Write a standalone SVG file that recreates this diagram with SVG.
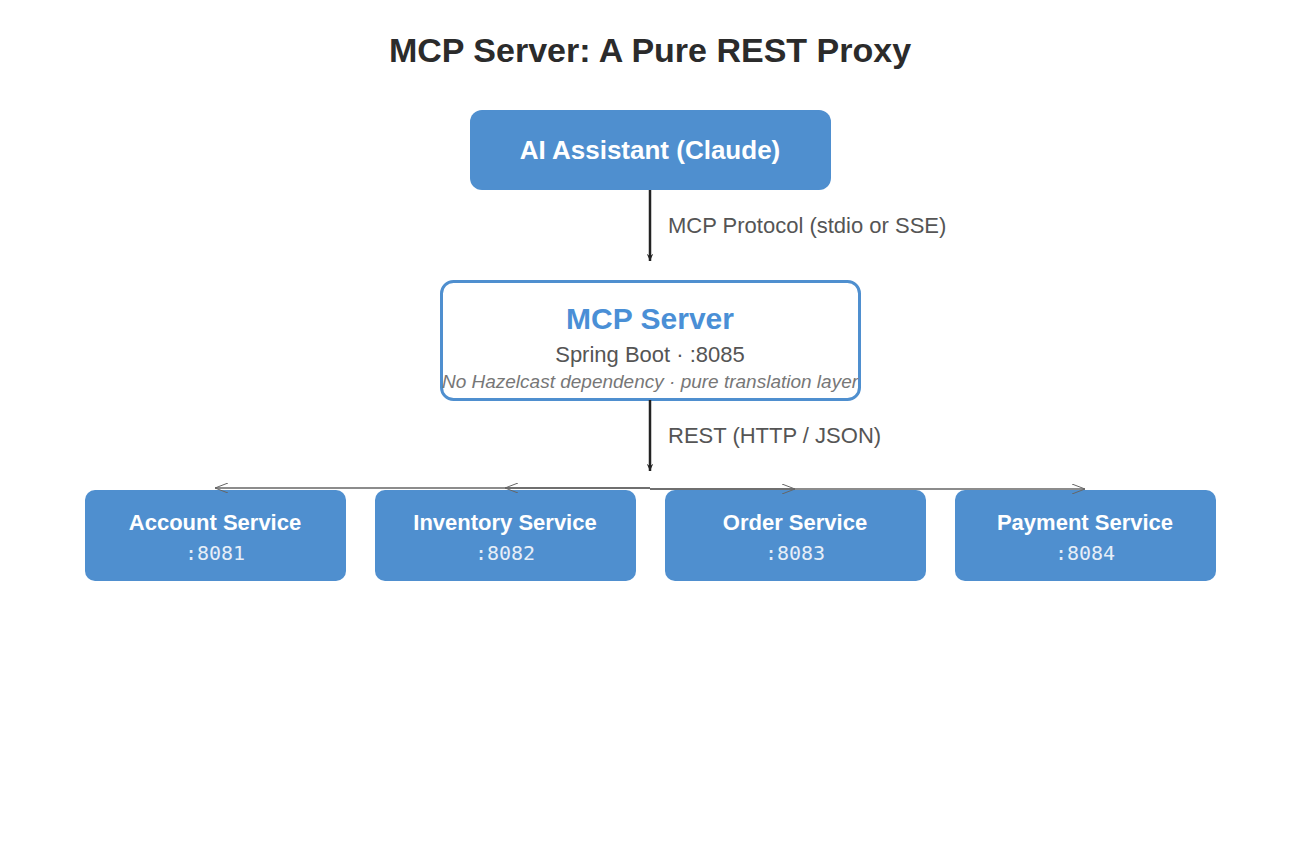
<svg xmlns="http://www.w3.org/2000/svg" width="1300" height="860" viewBox="0 0 1300 860">
<style>
.svc rect{fill:#4f8fcf;}
.svc .t{font:bold 22px "Liberation Sans",Arial,sans-serif;fill:#fff;text-anchor:middle;}
.svc .p{font:20px "DejaVu Sans Mono",monospace;fill:#e6eef8;text-anchor:middle;}
.lbl{font:22px "Liberation Sans",Arial,sans-serif;fill:#555;}
</style>
<defs>
<marker id="ah" viewBox="0 0 10 10" refX="9" refY="5" markerWidth="8" markerHeight="8" orient="auto" markerUnits="userSpaceOnUse"><path d="M0,1 L9,5 L0,9 L3,5 Z" fill="#222"/></marker>
<marker id="oa" viewBox="0 0 14 10" refX="13" refY="5" markerWidth="14" markerHeight="10" orient="auto" markerUnits="userSpaceOnUse"><path d="M0,0 L13,5 L0,10" fill="none" stroke="#666" stroke-width="1"/></marker>
</defs>
<rect width="1300" height="860" fill="#fff"/>
<text x="650" y="62" text-anchor="middle" style="font:bold 34px 'Liberation Sans',Arial,sans-serif;fill:#2b2b2b">MCP Server: A Pure REST Proxy</text>
<g id="ai">
<rect x="470" y="110" width="361" height="80" rx="12" fill="#4f8fcf"/>
<text x="650" y="159" text-anchor="middle" style="font:bold 26px 'Liberation Sans',Arial,sans-serif;fill:#fff">AI Assistant (Claude)</text>
</g>
<g id="mcp">
<rect x="441.5" y="281.5" width="418" height="118" rx="12" fill="#fff" stroke="#4f8fcf" stroke-width="3"/>
<text x="650" y="329" text-anchor="middle" style="font:bold 30px 'Liberation Sans',Arial,sans-serif;fill:#4a8fd6">MCP Server</text>
<text x="650" y="362" text-anchor="middle" style="font:22px 'Liberation Sans',Arial,sans-serif;fill:#555">Spring Boot · :8085</text>
<text x="650" y="388" text-anchor="middle" style="font:italic 19px 'Liberation Sans',Arial,sans-serif;fill:#777">No Hazelcast dependency · pure translation layer</text>
</g>
<g id="account" class="svc"><rect x="85" y="490" width="261" height="91" rx="10"/><text class="t" x="215" y="530">Account Service</text><text class="p" x="215" y="560">:8081</text></g>
<g id="inventory" class="svc"><rect x="375" y="490" width="261" height="91" rx="10"/><text class="t" x="505" y="530">Inventory Service</text><text class="p" x="505" y="560">:8082</text></g>
<g id="order" class="svc"><rect x="665" y="490" width="261" height="91" rx="10"/><text class="t" x="795" y="530">Order Service</text><text class="p" x="795" y="560">:8083</text></g>
<g id="payment" class="svc"><rect x="955" y="490" width="261" height="91" rx="10"/><text class="t" x="1085" y="530">Payment Service</text><text class="p" x="1085" y="560">:8084</text></g>
<g id="connectors">
<line x1="650" y1="190" x2="650" y2="261" stroke="#222" stroke-width="2.5" marker-end="url(#ah)"/>
<text class="lbl" x="668" y="233">MCP Protocol (stdio or SSE)</text>
<line x1="650" y1="400" x2="650" y2="471" stroke="#222" stroke-width="2.5" marker-end="url(#ah)"/>
<text class="lbl" x="668" y="443">REST (HTTP / JSON)</text>
<line x1="650" y1="488" x2="215" y2="488" stroke="#666" stroke-width="1.5" marker-end="url(#oa)"/>
<line x1="650" y1="488" x2="505" y2="488" stroke="#666" stroke-width="1.5" marker-end="url(#oa)"/>
<line x1="650" y1="489" x2="795" y2="489" stroke="#666" stroke-width="1.5" marker-end="url(#oa)"/>
<line x1="650" y1="489" x2="1085" y2="489" stroke="#666" stroke-width="1.5" marker-end="url(#oa)"/>
</g>
</svg>
